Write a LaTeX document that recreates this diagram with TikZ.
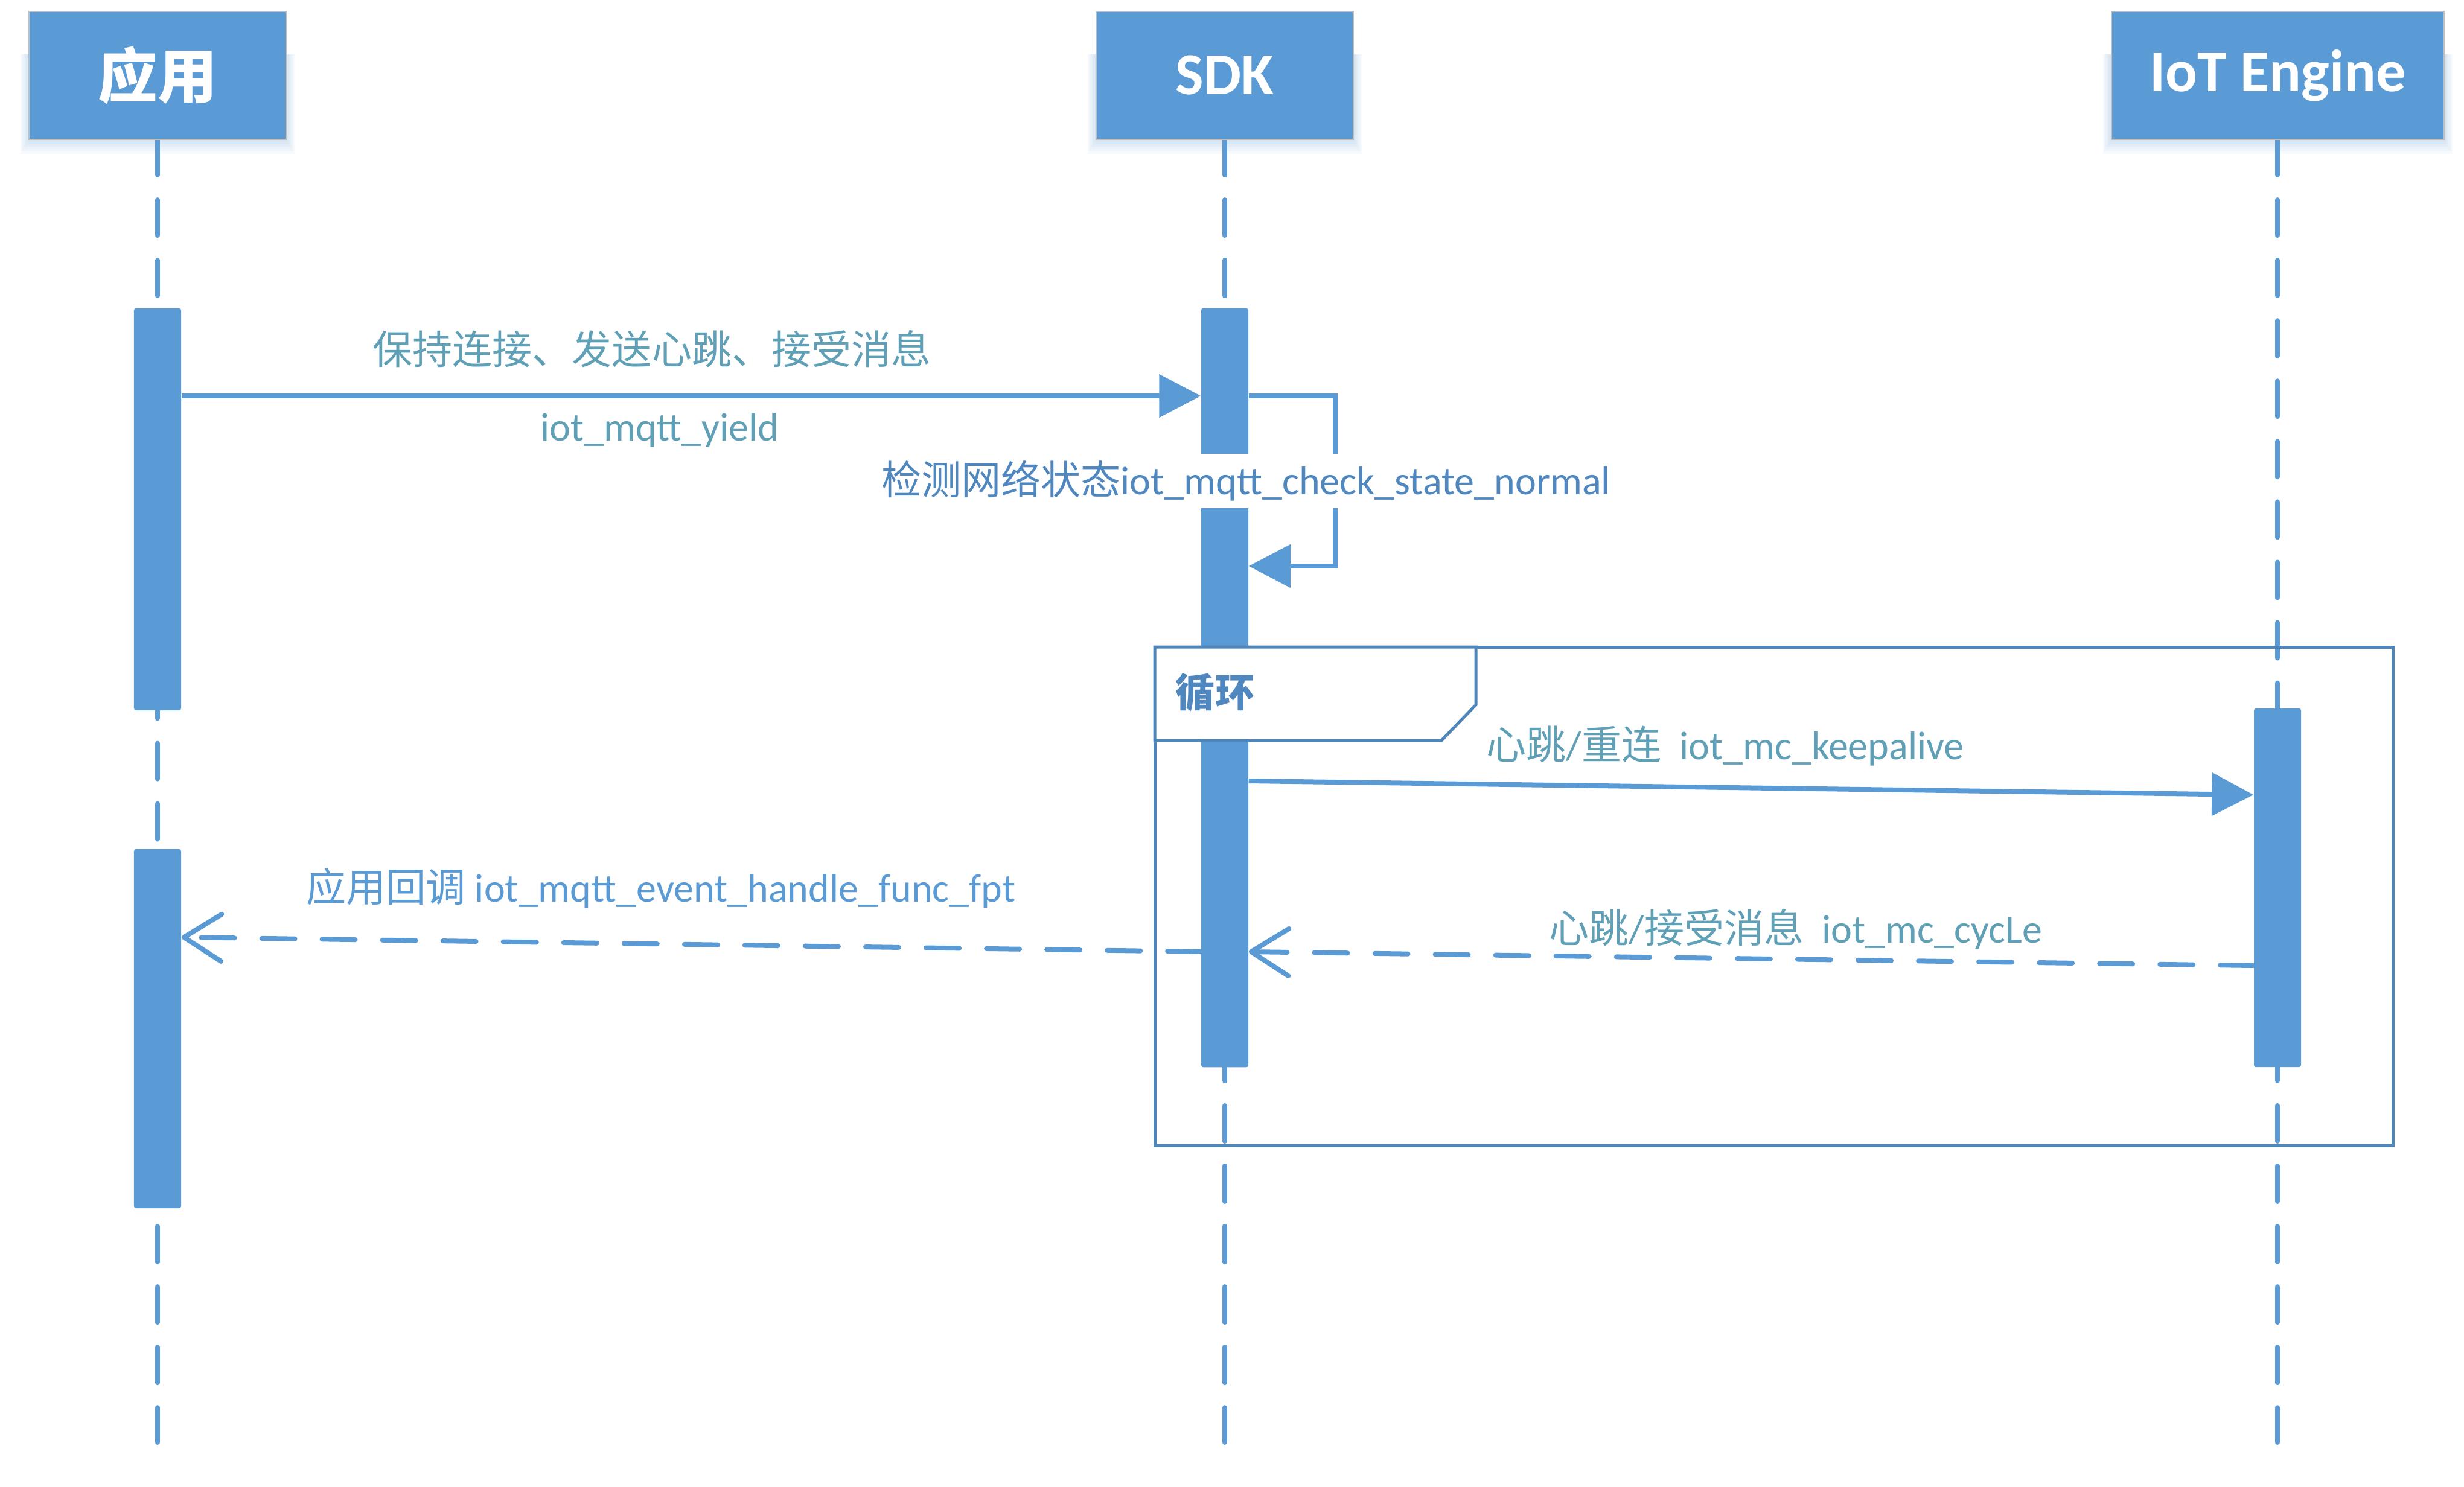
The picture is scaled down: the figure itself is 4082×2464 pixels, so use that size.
\documentclass[tikz,border=0pt]{standalone}
\usepackage{fontspec}
\setmainfont{Carlito}
\newfontfamily\cjk{Noto Sans CJK SC}
\usetikzlibrary{arrows.meta}
\definecolor{mainblue}{RGB}{91,155,213}
\definecolor{framec}{RGB}{78,134,186}
\definecolor{labteal}{RGB}{95,160,182}
\definecolor{labdark}{RGB}{79,135,190}
\definecolor{hdrborder}{RGB}{191,191,191}
\begin{document}
\begin{tikzpicture}[x=0.01cm,y=-0.01cm,
  lifeline/.style={draw=mainblue, line width=2.28pt, line cap=round, dash pattern=on 0.59cm off 0.41cm},
  hdr/.style={draw=hdrborder, line width=0.6pt, fill=mainblue, text=white, minimum height=2.12cm, font=\fontsize{28}{32}\selectfont\bfseries, inner sep=0pt},
  act/.style={fill=mainblue, draw=none, minimum width=0.78cm, inner sep=0pt, rounded corners=1pt},
  msg/.style={draw=mainblue, line width=2.28pt, -{Triangle[length=0.69cm,width=0.70cm]}},
  ret/.style={draw=mainblue, line width=2.28pt, line cap=round, dash pattern=on 0.55cm off 0.45cm, -{Straight Barb[length=0.62cm,width=0.78cm,round]}},
  lab/.style={font=\fontsize{18.8}{22}\selectfont, inner sep=0pt},
  framest/.style={draw=framec, line width=1.42pt},
]
\fill[white] (0,0) rectangle (4082,2464);
\useasboundingbox (0,0) rectangle (4082,2464);

% lifelines
\coordinate (appTop) at (261,231);
\coordinate (sdkTop) at (2029,231);
\coordinate (iotTop) at (3773,231);
\coordinate (appEnd) at (261,2390);
\coordinate (sdkEnd) at (2029,2390);
\coordinate (iotEnd) at (3773,2390);
\draw[lifeline] (appTop) -- (appEnd);
\draw[lifeline] (sdkTop) -- (sdkEnd);
\draw[lifeline] (iotTop) -- (iotEnd);

% header shadows
\foreach \L/\R in {48/474, 1816/2242, 3498/4049}{
  \foreach \d in {4,8,...,24}{
    \fill[mainblue, opacity=0.045] ({\L-\d*0.6},90) rectangle ({\R+\d*0.6},{231+\d});
  }
}

% headers
\node[hdr, minimum width=4.26cm] (app) at (261,125) {{\cjk\bfseries 应用}};
\node[hdr, minimum width=4.26cm] (sdk) at (2029,125) {SDK};
\node[hdr, minimum width=5.51cm] (iot) at (3773.5,125) {IoT Engine};

% activations
\node[act, minimum height=6.66cm] (actA1) at (261,844) {};
\node[act, minimum height=5.95cm] (actA2) at (261,1704.5) {};
\node[act, minimum height=12.57cm] (actS) at (2029,1139.5) {};
\node[act, minimum height=5.94cm] (actI) at (3773,1471) {};

% loop frame
\draw[framest] (1913,1072) rectangle (3964,1898);
\draw[framest, fill=white] (1913,1072) -- (2445,1072) -- (2445,1168) -- (2388,1227) -- (1913,1227) -- cycle;
\node[font=\fontsize{18.5}{22}\selectfont, text=labdark, inner sep=0pt] (loopLabel) at (2013,1147) {{\cjk\bfseries 循环}};

% messages
\draw[msg] (actA1.east |- 0,656) -- (actS.west |- 0,656);
\draw[msg] (actS.east |- 0,656) -- (2212,656) -- (2212,938) -- (actS.east |- 0,938);
\draw[msg] (actS.east |- 0,1294) -- (actI.west |- 0,1317);
\draw[ret] (actI.west |- 0,1600) -- (actS.east |- 0,1577);
\draw[ret] (actS.west |- 0,1577) -- (actA2.east |- 0,1553);

% labels
\node[lab, text=labteal] (l1) at (1080,578) {{\cjk 保持连接、发送心跳、接受消息}};
\node[lab, text=labteal] (l2) at (1093,713) {iot\_mqtt\_yield};
\node[lab, text=labdark, fill=white, minimum height=0.9cm] (l3) at (2064,797) {{\cjk 检测网络状态}iot\_mqtt\_check\_state\_normal};
\node[lab, text=labteal] (l4) at (2858,1236) {{\cjk 心跳}/{\cjk 重连}\ \ iot\_mc\_keepalive};
\node[lab, text=labteal] (l5) at (2975,1540) {{\cjk 心跳}/{\cjk 接受消息}\ \ iot\_mc\_cycLe};
\node[lab, text=mainblue] (l6) at (1095,1472) {{\cjk 应用回调} iot\_mqtt\_event\_handle\_func\_fpt};
\end{tikzpicture}
\end{document}
